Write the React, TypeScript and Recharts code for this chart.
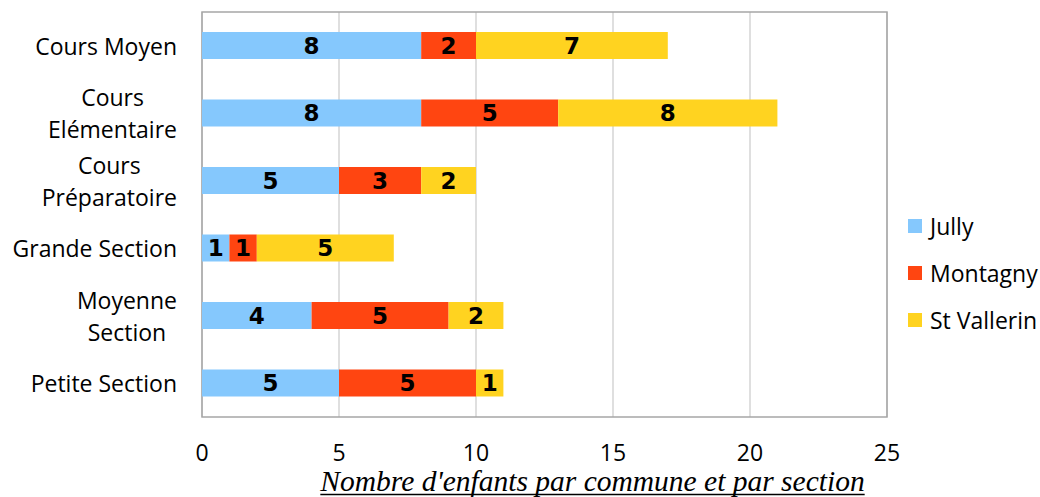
import React from 'react';
import { BarChart, Bar, XAxis, YAxis, CartesianGrid, Legend, LabelList, ReferenceArea, Label } from 'recharts';

const categories = ['Cours Moyen', 'Cours Elémentaire', 'Cours Préparatoire', 'Grande Section', 'Moyenne Section', 'Petite Section'];
const categoryLines: Record<string, string[]> = {
  'Cours Moyen': ['Cours Moyen'],
  'Cours Elémentaire': ['Cours', 'Elémentaire'],
  'Cours Préparatoire': ['Cours', 'Préparatoire'],
  'Grande Section': ['Grande Section'],
  'Moyenne Section': ['Moyenne', 'Section'],
  'Petite Section': ['Petite Section'],
};
const jully = [8, 8, 5, 1, 4, 5];
const montagny = [2, 5, 3, 1, 5, 5];
const stVallerin = [7, 8, 2, 5, 2, 1];
const xTicks = [0, 5, 10, 15, 20, 25];
const seriesKeys = ['jully', 'montagny', 'stVallerin'];
const seriesNames = ['Jully', 'Montagny', 'St Vallerin'];
const seriesColors = ['#85C8FD', '#FF4511', '#FFD320'];
const title = "Nombre d'enfants par commune et par section";

const data = categories.map((name, i) => ({
  name,
  jully: jully[i],
  montagny: montagny[i],
  stVallerin: stVallerin[i],
}));

const TICK_FONT = '"Open Sans", sans-serif';
const TICK_SIZE = 23;
const TITLE_SIZE = 29.5;

let measureCtx: CanvasRenderingContext2D | null = null;
function measure(text: string, font: string): number {
  if (!measureCtx) {
    const c = document.createElement('canvas');
    measureCtx = c.getContext('2d');
  }
  if (!measureCtx) return text.length * 11;
  measureCtx.font = font;
  return measureCtx.measureText(text).width;
}

const CatTick = (props: any) => {
  const { x, y, payload } = props;
  const lines = categoryLines[payload.value] || [payload.value];
  if (lines.length === 1) {
    return (
      <text x={x} y={y} textAnchor="end" dominantBaseline="central" fontFamily={TICK_FONT} fontSize={TICK_SIZE} fill="#000">
        {lines[0]}
      </text>
    );
  }
  const w = Math.max(...lines.map((l) => measure(l, `${TICK_SIZE}px "Open Sans"`)));
  const cx = x - w / 2;
  const lh = 32;
  const start = y - ((lines.length - 1) * lh) / 2;
  return (
    <text textAnchor="middle" fontFamily={TICK_FONT} fontSize={TICK_SIZE} fill="#000">
      {lines.map((l, i) => (
        <tspan key={i} x={cx} y={start + i * lh} dominantBaseline="central">{l}</tspan>
      ))}
    </text>
  );
};

const XTick = (props: any) => {
  const { x, y, payload } = props;
  return (
    <text x={x} y={y + 35} textAnchor="middle" dominantBaseline="central" fontFamily={TICK_FONT} fontSize={TICK_SIZE} fill="#000">
      {payload.value}
    </text>
  );
};

const LegendContent = () => (
  <div style={{ fontFamily: TICK_FONT, fontSize: TICK_SIZE, color: '#000' }}>
    {seriesNames.map((n, i) => (
      <div key={n} style={{ display: 'flex', alignItems: 'center', height: 47 }}>
        <span style={{ display: 'inline-block', width: 14, height: 14, background: seriesColors[i], marginRight: 8 }} />
        <span>{n}</span>
      </div>
    ))}
  </div>
);

const TitleLabel = (props: any) => {
  const vb = props.viewBox || {};
  const cx = vb.x + vb.width / 2 + 48;
  const baseline = vb.y + 74;
  const w = measure(title, `italic ${TITLE_SIZE}px "Liberation Serif"`);
  return (
    <g>
      <text
        x={cx}
        y={baseline}
        textAnchor="middle"
        fontFamily='"Liberation Serif", serif'
        fontStyle="italic"
        fontSize={TITLE_SIZE}
        fill="#000"
      >
        {title}
      </text>
      <line x1={cx - w / 2} x2={cx + w / 2} y1={baseline + 3.5} y2={baseline + 3.5} stroke="#000" strokeWidth={1.5} />
    </g>
  );
};

export default function App() {
  return (
    <div style={{ position: 'absolute', left: 0, top: 0, width: 1040, height: 497, background: '#fff' }}>
      <BarChart
        width={1040}
        height={497}
        data={data}
        layout="vertical"
        margin={{ top: 12, right: 153, bottom: 0, left: 0 }}
        barCategoryGap={0}
      >
        <CartesianGrid horizontal={false} vertical={true} stroke="#BFBFBF" />
        <ReferenceArea x1={0} x2={25} fill="none" stroke="#A6A6A6" strokeWidth={1.5} />
        <XAxis
          type="number"
          domain={[0, 25]}
          ticks={xTicks}
          axisLine={false}
          tickLine={false}
          tickSize={0}
          tickMargin={0}
          height={80}
          tick={<XTick />}
          interval={0}
        >
          <Label content={<TitleLabel />} />
        </XAxis>
        <YAxis
          type="category"
          dataKey="name"
          width={202}
          axisLine={false}
          tickLine={false}
          tickSize={0}
          tickMargin={25}
          tick={<CatTick />}
          interval={0}
        />
        <Legend
          layout="vertical"
          align="center"
          verticalAlign="middle"
          content={<LegendContent />}
          wrapperStyle={{ left: 908, top: 202, width: 140 }}
        />
        {seriesKeys.map((k, i) => (
          <Bar key={k} dataKey={k} name={seriesNames[i]} stackId="a" fill={seriesColors[i]} barSize={27} isAnimationActive={false}>
            <LabelList dataKey={k} position="center" fill="#000" fontFamily='"DejaVu Sans", sans-serif' fontWeight="bold" fontSize={23} />
          </Bar>
        ))}
      </BarChart>
    </div>
  );
}
